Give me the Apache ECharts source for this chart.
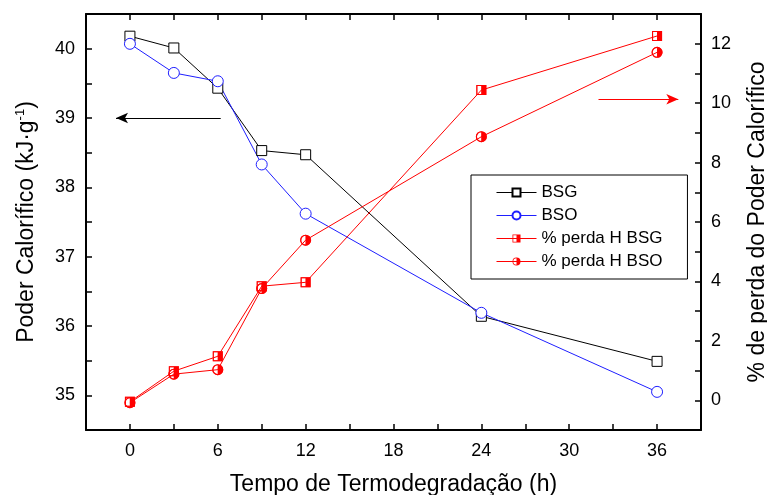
<!DOCTYPE html>
<html>
<head>
<meta charset="utf-8">
<script src="https://cdn.jsdelivr.net/npm/echarts@6/dist/echarts.min.js"></script>
<style>html,body{margin:0;padding:0;background:#fff}#c{width:767px;height:495px}</style>
</head>
<body>
<div id="c"></div>
<script>
const times = [0, 3, 6, 9, 12, 24, 36];
const bsg = [40.18, 40.01, 39.43, 38.53, 38.47, 36.14, 35.49];
const bso = [40.07, 39.65, 39.53, 38.33, 37.62, 36.19, 35.05];
const lossBsg = [-0.05, 0.98, 1.48, 3.84, 3.97, 10.44, 12.26];
const lossBso = [-0.08, 0.88, 1.03, 3.76, 5.39, 8.87, 11.71];
const seriesNames = ['BSG', 'BSO', '% perda H BSG', '% perda H BSO'];

const pair = (ys) => times.map((t, i) => [t, ys[i]]);
const FONT = 'Liberation Sans, Arial, sans-serif';
const halfSquare = 'path://M0 0H10V10H0Z M1 1V9H5V1Z';
const halfCircle = 'path://M5 0A5 5 0 1 1 5 10A5 5 0 1 1 5 0Z M5 1A4 4 0 0 0 5 9Z';
const RED = '#ff0000', BLUE = '#1f1fff', BLACK = '#000000';

const chart = echarts.init(document.getElementById('c'), null, {renderer: 'canvas'});
const axisLine = {show: true, onZero: false, lineStyle: {color: BLACK, width: 2}};
const tick = {show: true, inside: true, length: 6, lineStyle: {color: BLACK, width: 1.5}};
const isInt = v => Math.abs(v - Math.round(v)) < 1e-6;

chart.setOption({
  animation: false,
  backgroundColor: '#fff',
  textStyle: {fontFamily: FONT},
  grid: {left: 86, right: 66, top: 14, bottom: 65, containLabel: false, outerBoundsMode: 'none'},
  legend: {
    orient: 'vertical', left: 471, top: 175,
    data: seriesNames,
    backgroundColor: '#fff', borderColor: BLACK, borderWidth: 1, borderRadius: 0,
    padding: [9, 25, 9, 25], itemGap: 6, itemWidth: 40, itemHeight: 10,
    lineStyle: {width: 1},
    textStyle: {fontSize: 17, color: BLACK, fontFamily: FONT}
  },
  xAxis: [
    {type: 'value', min: -3, max: 39, interval: 3, position: 'bottom',
     axisLine, axisTick: tick, splitLine: {show: false},
     axisLabel: {fontSize: 18, color: BLACK, margin: 12,
       formatter: v => (Math.round(v) % 6 === 0 && v >= 0 && v <= 36) ? String(v) : ''},
     name: 'Tempo de Termodegradação (h)', nameLocation: 'middle', nameGap: 43,
     nameTextStyle: {fontSize: 23, color: BLACK}},
    {type: 'value', min: -3, max: 39, interval: 3, position: 'top',
     axisLine, axisTick: tick, splitLine: {show: false}, axisLabel: {show: false}}
  ],
  yAxis: [
    {type: 'value', min: 34.5, max: 40.5, interval: 0.5, position: 'left',
     axisLine, axisTick: tick, splitLine: {show: false},
     axisLabel: {fontSize: 18, color: BLACK, margin: 11,
       formatter: v => isInt(v) ? String(Math.round(v)) : ''},
     name: 'Poder Calorífico (kJ·g{sup|-1})', nameLocation: 'middle', nameGap: 47, nameMoveOverlap: false,
     nameTextStyle: {fontSize: 23, color: BLACK,
       rich: {sup: {fontSize: 13, color: BLACK, padding: [0, 0, 12, 0], fontFamily: FONT}}}},
    {type: 'value', min: -1, max: 13, interval: 1, position: 'right',
     axisLine, axisTick: tick, splitLine: {show: false},
     axisLabel: {fontSize: 18, color: BLACK, margin: 10,
       formatter: v => (Math.round(v) % 2 === 0 && v >= 0 && v <= 12) ? String(Math.round(v)) : ''},
     name: '% de perda do Poder Calorífico', nameLocation: 'middle', nameGap: 45, nameMoveOverlap: false,
     nameTextStyle: {fontSize: 23, color: BLACK}}
  ],
  series: [
    {name: seriesNames[0], type: 'line', xAxisIndex: 0, yAxisIndex: 0, data: pair(bsg),
     symbol: 'rect', symbolSize: 10,
     lineStyle: {color: BLACK, width: 1}, itemStyle: {color: '#fff', borderColor: BLACK, borderWidth: 1},
     markLine: {silent: true, symbol: ['none', 'arrow'], symbolSize: [8, 12], label: {show: false},
       lineStyle: {color: BLACK, width: 1, type: 'solid'},
       data: [[{coord: [6.2, 39]}, {coord: [-0.95, 39]}]]}},
    {name: seriesNames[1], type: 'line', xAxisIndex: 0, yAxisIndex: 0, data: pair(bso),
     symbol: 'circle', symbolSize: 11,
     lineStyle: {color: BLUE, width: 1}, itemStyle: {color: '#fff', borderColor: BLUE, borderWidth: 1}},
    {name: seriesNames[2], type: 'line', xAxisIndex: 0, yAxisIndex: 1, data: pair(lossBsg),
     symbol: halfSquare, symbolSize: 10,
     lineStyle: {color: RED, width: 1}, itemStyle: {color: RED, borderWidth: 0},
     markLine: {silent: true, symbol: ['none', 'arrow'], symbolSize: [8, 12], label: {show: false},
       lineStyle: {color: RED, width: 1, type: 'solid'},
       data: [[{coord: [32.0, 10.13]}, {coord: [37.45, 10.13]}]]}},
    {name: seriesNames[3], type: 'line', xAxisIndex: 0, yAxisIndex: 1, data: pair(lossBso),
     symbol: halfCircle, symbolSize: 11,
     lineStyle: {color: RED, width: 1}, itemStyle: {color: RED, borderWidth: 0}},
    {name: 'u1', type: 'scatter', xAxisIndex: 0, yAxisIndex: 1, data: pair(lossBsg), symbol: 'rect', symbolSize: 9, itemStyle: {color: '#fff'}, silent: true},
    {name: 'u2', type: 'scatter', xAxisIndex: 0, yAxisIndex: 1, data: pair(lossBso), symbol: 'circle', symbolSize: 10, itemStyle: {color: '#fff'}, silent: true},
    {name: 'o1', type: 'scatter', xAxisIndex: 0, yAxisIndex: 1, data: pair(lossBsg), symbol: halfSquare, symbolSize: 10, itemStyle: {color: RED}, silent: true},
    {name: 'o2', type: 'scatter', xAxisIndex: 0, yAxisIndex: 1, data: pair(lossBso), symbol: halfCircle, symbolSize: 11, itemStyle: {color: RED}, silent: true}
  ]
});
</script>
</body>
</html>
